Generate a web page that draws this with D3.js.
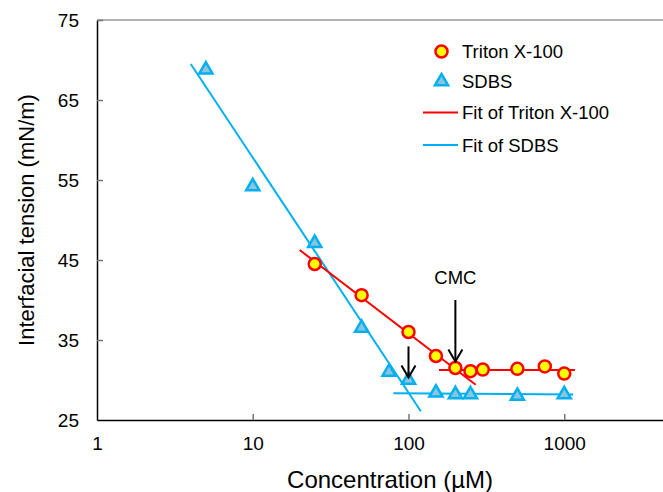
<!DOCTYPE html>
<html>
<head>
<meta charset="utf-8">
<script src="https://cdn.jsdelivr.net/npm/d3@7"></script>
<style>
  body { margin: 0; background: #fff; }
  svg { display: block; font-family: "Liberation Sans", Arial, sans-serif; }
</style>
</head>
<body>
<div id="chart"></div>
<script>
// concentrations in µM, tension in mN/m
const tritonConc = [25, 50, 100, 150, 200, 250, 300, 500, 750, 1000]
const tritonTension = [44.5, 40.6, 36.0, 33.0, 31.5, 31.1, 31.3, 31.4, 31.7, 30.8]
const sdbsConc = [5, 10, 25, 50, 75, 100, 150, 200, 250, 500, 1000]
const sdbsTension = [68.8, 54.2, 47.1, 36.5, 31.0, 30.0, 28.4, 28.2, 28.2, 28.0, 28.2]

// fit segments [[c0, v0], [c1, v1]]
const tritonFits = [[[20, 46.25], [270, 29.4]], [[157, 31.25], [1170, 31.25]]]
const sdbsFits = [[[4, 69.5], [120, 26.1]], [[80, 28.35], [1140, 28.2]]]

// CMC arrows: concentration, from value, to value
const arrows = [
  { c: 200, from: 40.0, to: 32.3 },
  { c: 100, from: 34.2, to: 30.3 }
]

const xTicks = [1, 10, 100, 1000]
const yTicks = [25, 35, 45, 55, 65, 75]
const legendItems = ['Triton X-100', 'SDBS', 'Fit of Triton X-100', 'Fit of SDBS']

const red = '#ff0000', blue = '#00b0f0', triFill = '#8cc4dc'
const W = 663, H = 492

const svg = d3.select('#chart').append('svg')
  .attr('width', W).attr('height', H)
svg.append('rect').attr('width', W).attr('height', H).attr('fill', '#fff')

// axis runs on to 10000, past the right edge of the window
const x = d3.scaleLog().domain([1, 10000]).range([97, 720])
const y = d3.scaleLinear().domain([25, 75]).range([420, 20])

// top border
svg.append('line')
  .attr('x1', x(1)).attr('x2', W).attr('y1', y(75)).attr('y2', y(75))
  .attr('stroke', '#666').attr('stroke-width', 1.2)

const xAxis = svg.append('g')
  .attr('transform', `translate(0,${y(25)})`)
  .call(d3.axisBottom(x).tickValues(xTicks).tickFormat(d3.format('d'))
    .tickSizeInner(-6).tickSizeOuter(0))
xAxis.select('.domain').attr('stroke', '#000').attr('stroke-width', 1.5)
xAxis.selectAll('.tick line').attr('stroke', '#777').attr('stroke-width', 1.5)
xAxis.selectAll('.tick text')
  .attr('y', 30).attr('dy', 0)
  .attr('font-size', 19).attr('fill', '#000')

const yAxis = svg.append('g')
  .attr('transform', `translate(${x(1)},0)`)
  .call(d3.axisLeft(y).tickValues(yTicks).tickSizeInner(-6).tickSizeOuter(0).tickPadding(18))
yAxis.select('.domain').attr('stroke', '#000').attr('stroke-width', 1.5)
yAxis.selectAll('.tick line').attr('stroke', '#777').attr('stroke-width', 1.5)
yAxis.selectAll('.tick text').attr('font-size', 19).attr('fill', '#000')
svg.selectAll('.tick').filter(d => d === 1 || d === 25).select('line').remove()

// axis titles
svg.append('text')
  .attr('x', 390).attr('y', 488)
  .attr('text-anchor', 'middle').attr('font-size', 24)
  .text('Concentration (µM)')
svg.append('text')
  .attr('transform', 'translate(34,220) rotate(-90)')
  .attr('text-anchor', 'middle').attr('font-size', 22)
  .text('Interfacial tension (mN/m)')

const line = d3.line().x(d => x(d[0])).y(d => y(d[1]))

svg.append('g').selectAll('path').data(sdbsFits).join('path')
  .attr('d', line).attr('fill', 'none')
  .attr('stroke', blue).attr('stroke-width', 2)
svg.append('g').selectAll('path').data(tritonFits).join('path')
  .attr('d', line).attr('fill', 'none')
  .attr('stroke', red).attr('stroke-width', 2)

const tri = d3.symbol().type(d3.symbolTriangle).size(75)

svg.append('g').selectAll('path')
  .data(sdbsConc.map((c, i) => [c, sdbsTension[i]]))
  .join('path')
  .attr('d', tri)
  .attr('transform', d => `translate(${x(d[0])},${y(d[1])})`)
  .attr('fill', triFill).attr('stroke', blue).attr('stroke-width', 2.5)

svg.append('g').selectAll('circle')
  .data(tritonConc.map((c, i) => [c, tritonTension[i]]))
  .join('circle')
  .attr('cx', d => x(d[0])).attr('cy', d => y(d[1])).attr('r', 6)
  .attr('fill', '#ffff00').attr('stroke', red).attr('stroke-width', 2.5)

// CMC arrows
const ag = svg.append('g').attr('stroke', '#000').attr('stroke-width', 2).attr('fill', 'none')
arrows.forEach(a => {
  const ax = x(a.c), y0 = y(a.from), y1 = y(a.to)
  ag.append('line').attr('x1', ax).attr('x2', ax).attr('y1', y0).attr('y2', y1)
  ag.append('path').attr('d', `M${ax - 7},${y1 - 12}L${ax},${y1}L${ax + 7},${y1 - 12}`)
})
svg.append('text')
  .attr('x', x(200)).attr('y', 284)
  .attr('text-anchor', 'middle').attr('font-size', 18.5)
  .text('CMC')

// legend
const lg = svg.append('g')
const rowY = [51.5, 81.5, 112.5, 145]
lg.append('circle').attr('cx', 441.5).attr('cy', rowY[0]).attr('r', 6)
  .attr('fill', '#ffff00').attr('stroke', red).attr('stroke-width', 2.5)
lg.append('path').attr('d', tri).attr('transform', `translate(441.5,${rowY[1]})`)
  .attr('fill', triFill).attr('stroke', blue).attr('stroke-width', 2.5)
lg.append('line').attr('x1', 423).attr('x2', 458).attr('y1', rowY[2]).attr('y2', rowY[2])
  .attr('stroke', red).attr('stroke-width', 2)
lg.append('line').attr('x1', 423).attr('x2', 458).attr('y1', rowY[3]).attr('y2', rowY[3])
  .attr('stroke', blue).attr('stroke-width', 2)
lg.selectAll('text').data(legendItems).join('text')
  .attr('x', 462).attr('y', (d, i) => rowY[i] + 6.5)
  .attr('font-size', 18.5)
  .text(d => d)
</script>
</body>
</html>
